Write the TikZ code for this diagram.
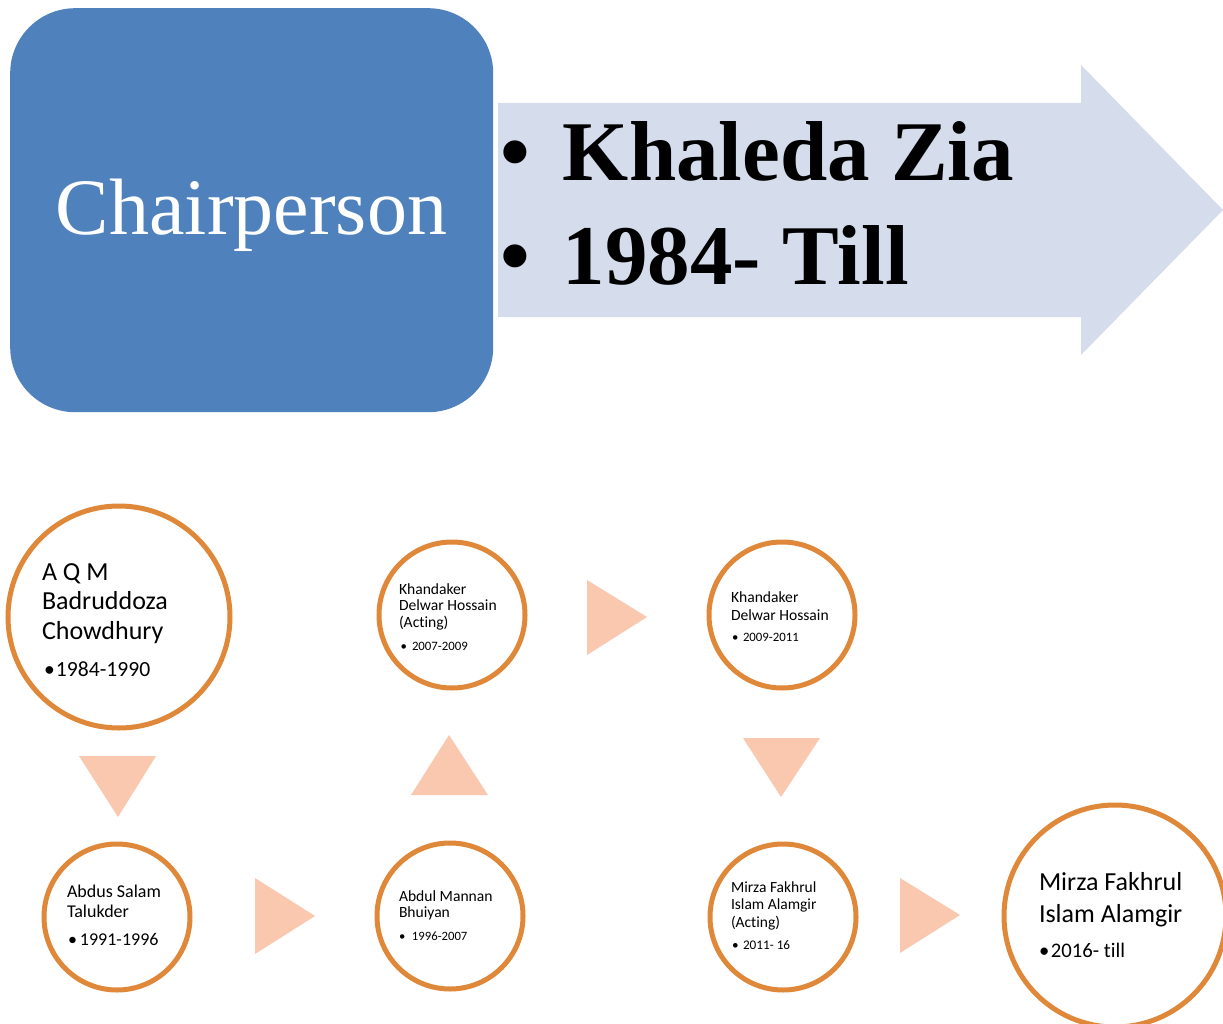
\documentclass[tikz,border=0pt]{standalone}
\usepackage{fontspec}
\setmainfont{Liberation Serif}
\newfontfamily\calfont[Ligatures={NoCommon,NoDiscretionary}]{Carlito}
\definecolor{boxblue}{HTML}{4F81BD}
\definecolor{arrowfill}{HTML}{D5DCEB}
\definecolor{ringorange}{HTML}{E0883A}
\definecolor{tripeach}{HTML}{F9C8AE}
\tikzset{
  ring/.style={circle, draw=ringorange, line width=5pt, fill=white, minimum size=#1, inner sep=0pt},
  tri/.style={fill=tripeach, draw=none},
  nm/.style={anchor=base west, inner sep=0pt, outer sep=0pt},
}
\begin{document}
\begin{tikzpicture}[x=1pt,y=-1pt]
\useasboundingbox (0,0) rectangle (1223,1024);
\fill[white] (0,0) rectangle (1223,1024);

% top part
\path[fill=arrowfill] (498,103) -- (1081,103) -- (1081,65) -- (1223,210) -- (1081,355) -- (1081,317) -- (498,317) -- cycle;
\node (chair) [fill=boxblue, rounded corners=65pt, minimum width=483pt, minimum height=404pt, anchor=north west, inner sep=0pt] at (10,8) {};
\node (chairtext) [anchor=base, inner sep=0pt, text=white, font=\fontsize{80pt}{80pt}\selectfont] at (251.5,235) {Chairperson};
\node (kz) [nm, font=\fontsize{85pt}{85pt}\bfseries\selectfont] at (500,181) {\makebox[63pt][l]{•}Khaleda Zia};
\node (kzyear) [nm, font=\fontsize{85pt}{85pt}\bfseries\selectfont] at (500,284) {\makebox[63pt][l]{•}1984- Till};

% circles
\node (p1) [ring=222pt] at (119,617) {};
\node (p2) [ring=146pt] at (117,917) {};
\node (p3) [ring=146pt] at (450,916) {};
\node (p4) [ring=146pt] at (452,615) {};
\node (p5) [ring=146pt] at (782,615) {};
\node (p6) [ring=146pt] at (783,917) {};
\node (p7) [ring=222pt] at (1115,916) {};

% triangles
\fill[tri] (79,756) -- (156,756) -- (118,817) -- cycle;
\fill[tri] (255,878) -- (255,954) -- (315,916) -- cycle;
\fill[tri] (411,795) -- (488,795) -- (449,735) -- cycle;
\fill[tri] (587,580) -- (587,655) -- (647,617) -- cycle;
\fill[tri] (743,738) -- (820,738) -- (781,797) -- cycle;
\fill[tri] (900,878) -- (900,953) -- (960,915) -- cycle;

% texts
\node (p1n) [nm, font=\calfont\fontsize{26pt}{29.5pt}\selectfont] at (42,580) {\parbox[t]{180pt}{\raggedright A Q M\\Badruddoza\\Chowdhury}};
\node (p1d) [nm, font=\calfont\fontsize{21.6pt}{26pt}\selectfont] at (44,676) {\makebox[12pt][l]{•}1984-1990};

\node (p2n) [nm, font=\calfont\fontsize{18pt}{20pt}\selectfont] at (67,897) {\parbox[t]{130pt}{\raggedright Abdus Salam\\Talukder}};
\node (p2d) [nm, font=\calfont\fontsize{18pt}{20pt}\selectfont] at (68,945) {\makebox[12pt][l]{•}1991-1996};

\node (p3n) [nm, font=\calfont\fontsize{15.6pt}{16.5pt}\selectfont] at (399,901) {\parbox[t]{120pt}{\raggedright Abdul Mannan\\Bhuiyan}};
\node (p3d) [nm, font=\calfont\fontsize{12.7pt}{15pt}\selectfont] at (399,940) {\makebox[13pt][l]{•}1996-2007};

\node (p4n) [nm, font=\calfont\fontsize{15.6pt}{16.5pt}\selectfont] at (399,594) {\parbox[t]{120pt}{\raggedright Khandaker\\Delwar Hossain\\(Acting)}};
\node (p4d) [nm, font=\calfont\fontsize{12.8pt}{15pt}\selectfont] at (400.5,650) {\makebox[11.5pt][l]{•}2007-2009};

\node (p5n) [nm, font=\calfont\fontsize{15.6pt}{18pt}\selectfont] at (731,602) {\parbox[t]{120pt}{\raggedright Khandaker\\Delwar Hossain}};
\node (p5d) [nm, font=\calfont\fontsize{12.8pt}{15pt}\selectfont] at (732,641) {\makebox[11pt][l]{•}2009-2011};

\node (p6n) [nm, font=\calfont\fontsize{15.5pt}{17.5pt}\selectfont] at (731,892) {\parbox[t]{120pt}{\raggedright Mirza Fakhrul\\Islam Alamgir\\(Acting)}};
\node (p6d) [nm, font=\calfont\fontsize{13.2pt}{15pt}\selectfont] at (732,949) {\makebox[11pt][l]{•}2011- 16};

\node (p7n) [nm, font=\calfont\fontsize{26pt}{32pt}\selectfont] at (1039,890) {\parbox[t]{180pt}{\raggedright Mirza Fakhrul\\Islam Alamgir}};
\node (p7d) [nm, font=\calfont\fontsize{20.7pt}{24pt}\selectfont] at (1039,957) {\makebox[12pt][l]{•}2016- till};
\end{tikzpicture}
\end{document}
